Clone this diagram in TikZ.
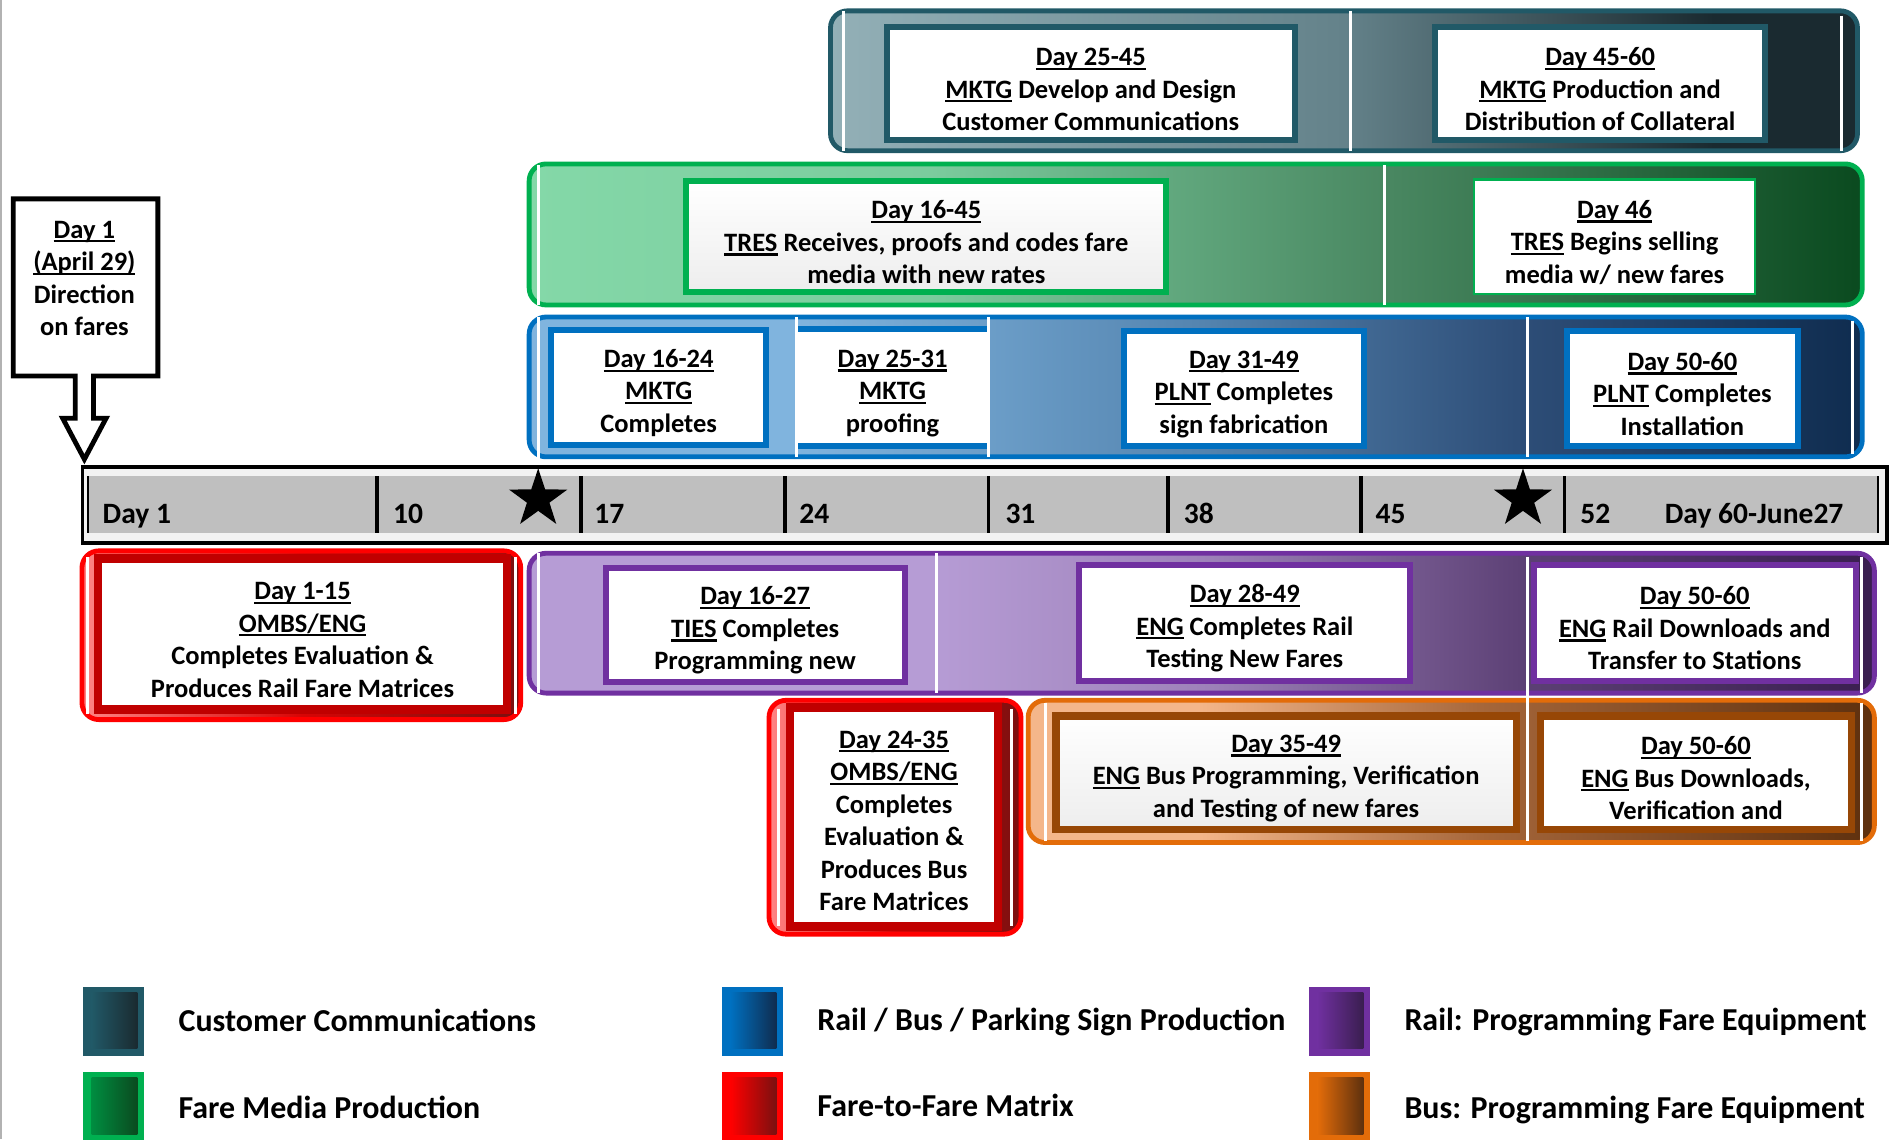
\documentclass[tikz,border=0pt]{standalone}
\usepackage{fontspec}
\setmainfont{Carlito}
\usetikzlibrary{shapes.geometric}

\definecolor{tealB}{HTML}{215967}
\definecolor{tealL}{HTML}{93B0B7}
\definecolor{tealM}{HTML}{64828A}
\definecolor{tealD}{HTML}{1A2A30}
\definecolor{grnB}{HTML}{00B050}
\definecolor{grnL}{HTML}{84D8A8}
\definecolor{grnM}{HTML}{4A8862}
\definecolor{grnD}{HTML}{0A4A1F}
\definecolor{bluB}{HTML}{0070C0}
\definecolor{bluL}{HTML}{80B4DE}
\definecolor{bluM}{HTML}{5585B0}
\definecolor{bluN}{HTML}{2E4E78}
\definecolor{bluD}{HTML}{0F2C4F}
\definecolor{purB}{HTML}{7030A0}
\definecolor{purL}{HTML}{B69CD5}
\definecolor{purM}{HTML}{9E82BA}
\definecolor{purN}{HTML}{5C4075}
\definecolor{purD}{HTML}{3A1E50}
\definecolor{orgB}{HTML}{E36C09}
\definecolor{orgL}{HTML}{F4B68A}
\definecolor{orgM}{HTML}{A5663A}
\definecolor{orgD}{HTML}{5E300E}
\definecolor{orgBox}{HTML}{974706}
\definecolor{redB}{HTML}{FF0000}
\definecolor{redL}{HTML}{FF8585}
\definecolor{redD}{HTML}{7A1010}
\definecolor{redBox}{HTML}{C00000}
\definecolor{tlOut}{HTML}{F2F2F2}
\definecolor{tlIn}{HTML}{BFBFBF}

\pgfdeclarehorizontalshading{tealsh}{100bp}{color(0bp)=(tealL); color(25bp)=(tealL); color(50bp)=(tealM); color(68bp)=(tealD); color(100bp)=(tealD)}
\pgfdeclarehorizontalshading{grnsh}{100bp}{color(0bp)=(grnL); color(25bp)=(grnL); color(40bp)=(grnL!85!grnM); color(57bp)=(grnM); color(75bp)=(grnD); color(100bp)=(grnD)}
\pgfdeclarehorizontalshading{blush}{100bp}{color(0bp)=(bluL); color(35bp)=(bluL); color(50bp)=(bluM); color(62bp)=(bluN); color(75bp)=(bluD); color(100bp)=(bluD)}
\pgfdeclarehorizontalshading{pursh}{100bp}{color(0bp)=(purL); color(40bp)=(purL); color(50bp)=(purM); color(62bp)=(purN); color(75bp)=(purD); color(100bp)=(purD)}
\pgfdeclarehorizontalshading{orgsh}{100bp}{color(0bp)=(orgL); color(35bp)=(orgL); color(52bp)=(orgM); color(75bp)=(orgD); color(100bp)=(orgD)}
\pgfdeclarehorizontalshading{redsh}{100bp}{color(0bp)=(redL); color(25bp)=(redL); color(50bp)=(redB!70!redD); color(75bp)=(redD); color(100bp)=(redD)}

\newcommand\ulx[1]{\leavevmode\setbox0\hbox{#1}\rlap{\rule[-3.6pt]{\wd0}{1.8pt}}\box0\relax}
\newcommand\fl{\rule{0pt}{24pt}}

\begin{document}
\begin{tikzpicture}[x=1pt,y=-1pt,
  txt/.style={font=\fontsize{22}{27}\selectfont\bfseries, align=center, inner sep=0pt},
  band/.style={draw=#1, line width=4pt, rounded corners=14pt, shade, inner sep=0pt},
  bx/.style={draw=#1, line width=5pt, fill=white, txt},
  wl/.style={draw=white, line width=2.5pt},
  tick/.style={draw=black, line width=3pt},
  tl/.style={font=\fontsize{24.5}{28}\selectfont\bfseries, anchor=base west, inner sep=0pt},
  lg/.style={font=\fontsize{26.5}{30}\selectfont\bfseries, anchor=base west, inner sep=0pt},
  sq/.style={fill=#1, inner sep=0pt, anchor=north west, minimum width=50pt, minimum height=57pt},
  starn/.style={star, star points=5, star point ratio=2.6, fill=black, inner sep=0pt, minimum size=51pt}
]
\useasboundingbox (0,0) rectangle (1568,945);
\draw[gray!60, line width=1.5pt] (0.75,0) -- (0.75,945);

% ---------- Customer Communications band
\node[band=tealB, shading=tealsh, minimum width=852pt, minimum height=116pt] (tband) at (1115,67) {};
\draw[wl] (700,9) -- (700,125);
\draw[wl] (1120,9) -- (1120,125);
\draw[wl] (1528,13) -- (1528,125);
\node[bx=tealB, minimum width=339pt, minimum height=94pt] (ta) at (905,69.5)
  {\fl\ulx{Day 25-45}\\ \ulx{MKTG} Develop and Design\\ Customer Communications};
\node[bx=tealB, minimum width=274pt, minimum height=94pt] (tb) at (1327.5,69.5)
  {\fl\ulx{Day 45-60}\\ \ulx{MKTG} Production and\\ Distribution of Collateral};

% ---------- Fare Media band
\node[band=grnB, shading=grnsh, minimum width=1106pt, minimum height=117pt] (gband) at (992,194.5) {};
\draw[wl] (447,137) -- (447,253);
\draw[wl] (1149,137) -- (1149,253);
\node[bx=grnB, top color=white, bottom color=black!7, minimum width=398pt, minimum height=92pt] (ga) at (768.5,196.5)
  {\fl\ulx{Day 16-45}\\ \ulx{TRES} Receives, proofs and codes fare\\ media with new rates};
\node[bx=grnB, line width=2pt, minimum width=233pt, minimum height=95pt] (gb) at (1339.5,196.5)
  {\fl\ulx{Day 46}\\ \ulx{TRES} Begins selling\\ media w/ new fares};

% ---------- Sign Production band
\node[band=bluB, shading=blush, minimum width=1106pt, minimum height=116pt] (bband) at (992,321) {};
\draw[wl] (447,263) -- (447,386);
\draw[wl] (1267,263) -- (1267,379);
\draw[wl] (1537,266) -- (1537,377);
\node[bx=bluB, minimum width=178pt, minimum height=96pt] (ba) at (546.5,321.5)
  {\fl\ulx{Day 16-24}\\ \ulx{MKTG}\\ Completes};
\node[txt, fill=white, minimum width=159pt, minimum height=101pt] (bb) at (740.5,321.5)
  {\fl\ulx{Day 25-31}\\ \ulx{MKTG}\\ proofing};
\draw[bluB, line width=5pt] ([yshift=-2.5pt]bb.north west) -- ([yshift=-2.5pt]bb.north east);
\draw[bluB, line width=5pt] ([yshift=2.5pt]bb.south west) -- ([yshift=2.5pt]bb.south east);
\draw[wl] (661,263) -- (661,379);
\draw[wl] (820,263) -- (820,379);
\node[bx=bluB, minimum width=199pt, minimum height=95.5pt] (bc) at (1032,322.25)
  {\fl\ulx{Day 31-49}\\ \ulx{PLNT} Completes\\ sign fabrication};
\node[bx=bluB, minimum width=191.5pt, minimum height=95.5pt] (bd) at (1395.75,322.25)
  {\fl\ulx{Day 50-60}\\ \ulx{PLNT} Completes\\ Installation};

% ---------- Timeline
\node[draw=black, line width=3pt, fill=tlOut, minimum width=1497pt, minimum height=63pt, inner sep=0pt] (tline) at (817,419) {};
\fill[tlIn] (72,395) rectangle (1558,442);
\foreach \xx in {313,482,651,820,969,1129,1298}{\draw[tick] (\xx,395) -- (\xx,442);}
\draw[black, line width=2pt] (73,395) -- (73,442);
\draw[black, line width=2pt] (1558,395) -- (1558,442);
\node[tl] (l1) at (85,434) {Day 1};
\node[tl] (l10) at (326,434) {10};
\node[tl] (l17) at (493,434) {17};
\node[tl] (l24) at (663,434) {24};
\node[tl] (l31) at (834,434) {31};
\node[tl] (l38) at (982,434) {38};
\node[tl] (l45) at (1141,434) {45};
\node[tl] (l52) at (1311,434) {52};
\node[tl] (l60) at (1381,434) {Day 60-June27};
\node[starn] (s1) at (446.5,414) {};
\node[starn] (s2) at (1263.5,414) {};

% ---------- Day 1 callout
\draw[black, line width=4pt, fill=white, line join=miter]
  (11,165) -- (131,165) -- (131,312) -- (77.5,312) -- (77.5,347) -- (88,347) -- (70,381)
  -- (52,347) -- (62.5,347) -- (62.5,312) -- (11,312) -- cycle;
\node[txt] (d1) at (70,231) {\ulx{Day 1}\\ \ulx{(April 29)}\\ Direction\\ on fares};

% ---------- Rail programming band
\node[band=purB, shading=pursh, minimum width=1116pt, minimum height=116pt] (pband) at (997,517) {};
\draw[wl] (447,459) -- (447,575);
\draw[wl] (777,459) -- (777,575);
\draw[wl] (1544,462) -- (1544,575);
\node[bx=purB, minimum width=248pt, minimum height=94pt] (pa) at (626.5,518.5)
  {\fl\ulx{Day 16-27}\\ \ulx{TIES} Completes\\ Programming new};
\node[bx=purB, minimum width=274.5pt, minimum height=96.5pt] (pb) at (1032.75,516.75)
  {\fl\ulx{Day 28-49}\\ \ulx{ENG} Completes Rail\\ Testing New Fares};
\node[bx=purB, minimum width=267pt, minimum height=96.5pt] (pc) at (1406,516.75)
  {\fl\ulx{Day 50-60}\\ \ulx{ENG} Rail Downloads and\\ Transfer to Stations};

% ---------- Bus programming band
\node[band=orgB, shading=orgsh, minimum width=702pt, minimum height=118pt] (oband) at (1204,640) {};
\draw[wl] (867,583) -- (867,698);
\draw[wl] (1544,583) -- (1544,698);
\draw[wl] (1267,462) -- (1267,698);
\node[bx=orgBox, line width=6pt, top color=white, bottom color=black!7, minimum width=382pt, minimum height=94pt] (oa) at (1067,641)
  {\fl\ulx{Day 35-49}\\ \ulx{ENG} Bus Programming, Verification\\ and Testing of new fares};
\node[bx=orgBox, line width=6pt, minimum width=258pt, minimum height=94pt] (ob) at (1407,641)
  {\fl\ulx{Day 50-60}\\ \ulx{ENG} Bus Downloads,\\ Verification and};

% ---------- Fare-to-Fare matrices
\node[band=redB, shading=redsh, minimum width=364pt, minimum height=140pt] (rao) at (250,527) {};
\draw[wl] (73,462) -- (73,592);
\draw[wl] (428,462) -- (428,592);
\node[bx=redBox, line width=7pt, minimum width=339pt, minimum height=125pt] (ra) at (251,526)
  {\fl\ulx{Day 1-15}\\ \ulx{OMBS/ENG}\\ Completes Evaluation \&\\ Produces Rail Fare Matrices};
\node[band=redB, shading=redsh, minimum width=209pt, minimum height=194pt] (rbo) at (742.5,678) {};
\draw[wl] (646,588) -- (646,768);
\draw[wl] (839,588) -- (839,768);
\node[bx=redBox, line width=7pt, minimum width=172.5pt, minimum height=181.5pt] (rb) at (741.75,677.75)
  {\rule{0pt}{21pt}\ulx{Day 24-35}\\ \ulx{OMBS/ENG}\\ Completes\\ Evaluation \&\\ Produces Bus\\ Fare Matrices};

% ---------- Legend
\node[sq=tealB] (q1) at (69,818.5) {};
\path[left color=tealB, right color=tealD] (76,823.5) rectangle (114,870);
\node[lg] (g1) at (148,856) {Customer Communications};
\node[sq=grnB, minimum height=58pt] (q2) at (69,889) {};
\path[left color=grnB!80!black, right color=grnD] (76,894) rectangle (114,941);
\node[lg] (g2) at (148,928) {Fare Media Production};
\node[sq=bluB] (q3) at (599,818.5) {};
\path[left color=bluB, right color=bluD] (606,823.5) rectangle (644,870);
\node[lg] (g3) at (678,855) {Rail / Bus / Parking Sign Production};
\node[sq=redB, minimum height=58pt] (q4) at (599,889) {};
\path[left color=redB, right color=redD] (606,894) rectangle (644,941);
\node[lg] (g4) at (678,926) {Fare-to-Fare Matrix};
\node[sq=purB] (q5) at (1086,818.5) {};
\path[left color=purB, right color=purD] (1093,823.5) rectangle (1131,870);
\node[lg] (g5) at (1165,855) {Rail: Programming Fare Equipment};
\node[sq=orgB, minimum height=58pt] (q6) at (1086,889) {};
\path[left color=orgB, right color=orgD] (1093,894) rectangle (1131,941);
\node[lg] (g6) at (1165,928) {Bus: Programming Fare Equipment};
\end{tikzpicture}
\end{document}
